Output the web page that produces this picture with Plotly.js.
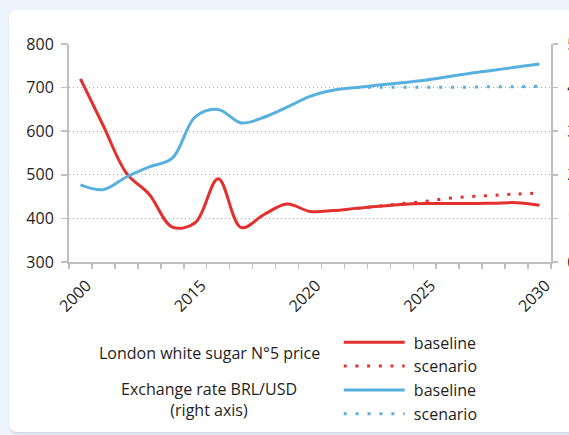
<!DOCTYPE html>
<html>
<head>
<meta charset="utf-8">
<script src="https://cdn.plot.ly/plotly-3.0.1.min.js"></script>
<style>
  html, body { margin: 0; padding: 0; background: #EDF4FC; width: 569px; height: 435px; overflow: hidden; }
  #panel { position: absolute; left: 9px; top: 10px; width: 580px; height: 422px; background: #ffffff; border-radius: 8px; box-shadow: 0 2px 2px rgba(150,165,190,0.35); }
  #chart { position: absolute; left: 0; top: 0; width: 569px; height: 435px; }
</style>
</head>
<body>
<div id="panel"></div>
<div id="chart"></div>
<script>
// ---- data ----
const years = [2010, 2011, 2012, 2013, 2014, 2015, 2016, 2017, 2018, 2019, 2020,
               2021, 2022, 2023, 2024, 2025, 2026, 2027, 2028, 2029, 2030];
const tickYears = [2010, 2015, 2020, 2025, 2030];
const tickLabels = ["2000", "2015", "2020", "2025", "2030"];

// London white sugar N°5 price (left axis)
const sugarBaseline = [720, 612, 504, 455, 380, 390, 491, 379, 409, 433, 416,
                       418, 423, 428, 432, 434, 434, 434, 435, 436, 430];
const scenarioYears = [2022, 2023, 2024, 2025, 2026, 2027, 2028, 2029, 2030];
const sugarScenario = [423, 428, 434, 439, 446, 450, 453, 456, 458];

// Exchange rate BRL/USD (right axis)
const brlBaseline = [1.77, 1.66, 1.95, 2.18, 2.38, 3.33, 3.50, 3.19, 3.32, 3.55, 3.80,
                     3.94, 4.00, 4.06, 4.11, 4.17, 4.25, 4.33, 4.40, 4.47, 4.54];
const brlScenario = [4.00, 4.01, 4.01, 4.01, 4.01, 4.01, 4.02, 4.02, 4.03];

const seriesNames = ["baseline", "scenario", "baseline", "scenario"];
const groupLabels = ["London white sugar N°5 price", "Exchange rate BRL/USD<br>(right axis)"];

// ---- styles ----
const RED = "#E3302F";
const BLUE = "#58B0DF";
const AXIS = "#BFBFBF";
const TEXT = "#1E1E1E";
const FONT = "Open Sans, sans-serif";

const W = 569, H = 435;
const L = 69.3, R = 551.3, T = 44, B = 261.7;

const traces = [
  { x: years, y: sugarBaseline, name: "\u00a0" + seriesNames[0], type: "scatter", mode: "lines",
    line: { color: RED, width: 3, shape: "spline", smoothing: 1 }, yaxis: "y" },
  { x: scenarioYears, y: sugarScenario, name: "\u00a0" + seriesNames[1], type: "scatter", mode: "lines",
    line: { color: RED, width: 3, dash: "3px,8.7px", shape: "spline", smoothing: 1 }, yaxis: "y" },
  { x: years, y: brlBaseline, name: "\u00a0" + seriesNames[2], type: "scatter", mode: "lines",
    line: { color: BLUE, width: 3, shape: "spline", smoothing: 1 }, yaxis: "y2" },
  { x: scenarioYears, y: brlScenario, name: "\u00a0" + seriesNames[3], type: "scatter", mode: "lines",
    line: { color: BLUE, width: 3, dash: "3px,8.9px", shape: "spline", smoothing: 1 }, yaxis: "y2" }
];

const px2x = p => (p - L) / (R - L);
const py2y = p => (B - p) / (B - T);

const layout = {
  width: W, height: H,
  margin: { l: L, r: W - R, t: T, b: H - B, autoexpand: false },
  paper_bgcolor: "rgba(0,0,0,0)",
  plot_bgcolor: "rgba(0,0,0,0)",
  font: { family: FONT, size: 16, color: TEXT },
  showlegend: true,
  xaxis: {
    range: [2009.5, 2030.5], tickmode: "array", tickvals: tickYears, ticktext: tickLabels,
    tickangle: -45, ticks: "", showgrid: false, zeroline: false,
    showline: true, linecolor: AXIS, linewidth: 2,
    ticklabelshift: 6, ticklabelstandoff: 6,
    tickfont: { family: FONT, size: 16, color: TEXT },
    minor: { ticks: "outside", tickmode: "linear", tick0: 2009.5, dtick: 1, ticklen: 5, tickwidth: 1.5, tickcolor: AXIS, showgrid: false }
  },
  yaxis: {
    range: [300, 800], dtick: 100, tick0: 300,
    showgrid: true, gridcolor: "#A8A8A8", gridwidth: 1, griddash: "1px,3px",
    zeroline: false, showline: true, linecolor: AXIS, linewidth: 2,
    ticks: "outside", ticklen: 6, tickwidth: 1.5, tickcolor: AXIS,
    ticklabelstandoff: 4,
    tickfont: { family: FONT, size: 16, color: TEXT }
  },
  yaxis2: {
    range: [0, 5], dtick: 1, tick0: 0, overlaying: "y", side: "right",
    showgrid: false, zeroline: false, showline: true, linecolor: AXIS, linewidth: 2,
    ticks: "outside", ticklen: 5, tickwidth: 1.5, tickcolor: AXIS,
    ticklabelstandoff: 6,
    tickfont: { family: FONT, size: 16, color: TEXT }
  },
  legend: {
    x: px2x(339), y: py2y(325), xanchor: "left", yanchor: "top",
    bgcolor: "rgba(0,0,0,0)", borderwidth: 0,
    font: { family: FONT, size: 16, color: TEXT },
    itemwidth: 61, traceorder: "normal", tracegroupgap: 0
  },
  annotations: [
    { text: groupLabels[0], xref: "paper", yref: "paper", x: px2x(209.5), y: py2y(353), xanchor: "center", yanchor: "middle",
      showarrow: false, font: { family: FONT, size: 16, color: TEXT } },
    { text: groupLabels[1], xref: "paper", yref: "paper", x: px2x(209.5), y: py2y(399.5), xanchor: "center", yanchor: "middle",
      showarrow: false, font: { family: FONT, size: 16, color: TEXT } }
  ]
};

Plotly.newPlot("chart", traces, layout, { displayModeBar: false, staticPlot: true });
</script>
</body>
</html>
